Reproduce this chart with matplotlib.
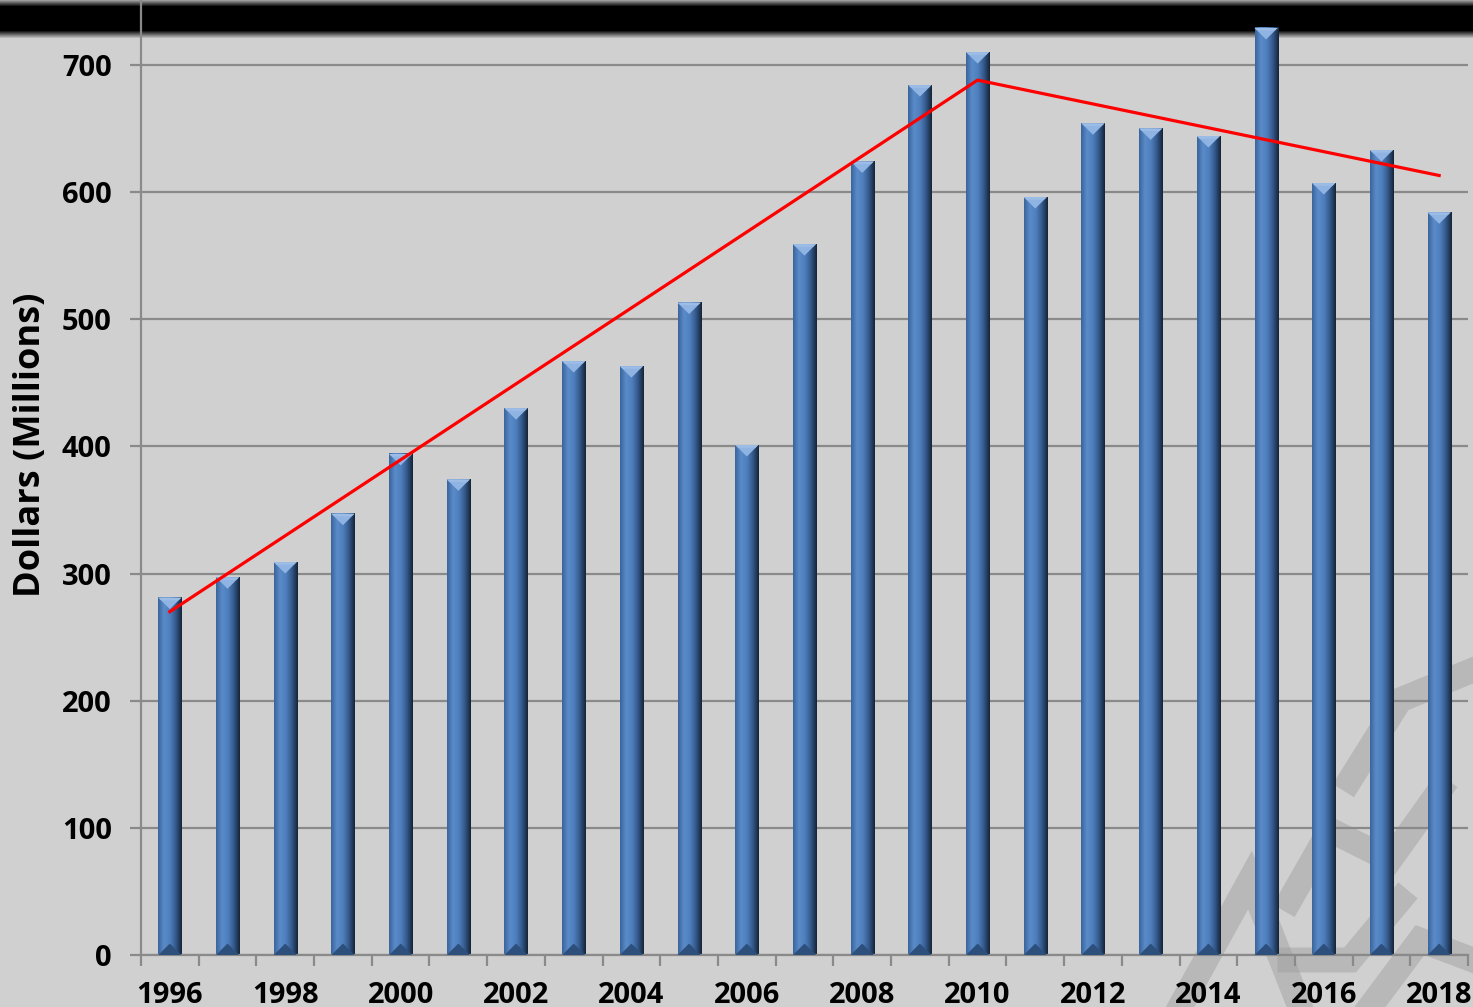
import numpy as np
import matplotlib.pyplot as plt
from matplotlib.colors import LinearSegmentedColormap

# data
anos = list(range(1996, 2019))
valores = [281, 297, 309, 347, 394, 374, 430, 467, 463, 513, 401, 559,
           624, 684, 710, 596, 654, 650, 644, 729, 607, 633, 584]

# tendency line (two segments)
tend_anos = [1996, 2010, 2018]
tend_valores = [270, 688, 613]

fundo = '#d0d0d0'
plt.rcParams['font.family'] = ['Open Sans', 'DejaVu Sans']

fig = plt.figure(figsize=(14.73, 10.07), dpi=100, facecolor=fundo)

# black band on top with soft edges (behind the chart)
faixa = np.concatenate([np.linspace(0.75, 0.0, 7), np.zeros(23), np.linspace(0, 1.0, 9)])
cmap_faixa = LinearSegmentedColormap.from_list('faixa', ['#000000', fundo])
bx = fig.add_axes([0, 1 - 39 / 1007, 1, 39 / 1007], zorder=0)
bx.imshow(faixa.reshape(-1, 1), cmap=cmap_faixa, aspect='auto', vmin=0, vmax=1)
bx.axis('off')

# faint watermark in the lower right corner
wm = fig.add_axes([0, 0, 1, 1], zorder=0)
wm.set_xlim(0, 1473)
wm.set_ylim(1007, 0)
wm.axis('off')
for xs, ys in [([1180, 1250, 1300], [1007, 880, 1007]),
               ([1290, 1330, 1390, 1440], [900, 830, 860, 790]),
               ([1350, 1400, 1473], [780, 700, 670]),
               ([1370, 1420, 1473], [1007, 940, 960]),
               ([1290, 1350, 1400], [960, 960, 900])]:
    wm.plot(xs, ys, color='#9c9c9c', lw=18, alpha=0.45, solid_joinstyle='miter')

ax = fig.add_axes([141 / 1473, 1 - 955 / 1007, 1327 / 1473, 955 / 1007], zorder=1)
ax.patch.set_alpha(0)

x = np.arange(len(anos))
largura = 0.40

# gradient for the bevelled bars (light left/center, dark right)
cmap_barra = LinearSegmentedColormap.from_list(
    'barra', ['#3b659c', '#5a8bca', '#4f7fbd', '#34598b', '#152538'])
grad = np.linspace(0, 1, 64).reshape(1, -1)

for xi, v in zip(x, valores):
    ax.imshow(grad, cmap=cmap_barra, aspect='auto', zorder=2,
              extent=(xi - largura / 2, xi + largura / 2, 0, v))
    # top chevron
    h = 9
    ax.fill([xi - largura / 2, xi + largura / 2, xi],
            [v, v, v - h], color='#8fb4e3', zorder=3, lw=0)
    ax.fill([xi - largura / 2, xi - largura / 2 + 0.05, xi + largura / 2 - 0.05, xi + largura / 2],
            [v, v - 2, v - 2, v], color='#9dbde6', zorder=3, lw=0)
    # bottom chevron
    ax.fill([xi - largura / 2, xi + largura / 2, xi],
            [0, 0, h], color='#2d4f7c', zorder=3, lw=0)

ax.plot([anos.index(a) for a in tend_anos], tend_valores,
        color='#ff0000', lw=2.3, zorder=4)

ax.set_xlim(-0.5, len(anos) - 0.5)
ax.set_ylim(0, 751)
ax.set_yticks(range(0, 701, 100))
ax.set_yticklabels([str(v) for v in range(0, 701, 100)],
                   fontsize=21, fontweight='bold')
ax.yaxis.grid(True, color='#8a8a8a', lw=1.6, zorder=1)
ax.set_axisbelow(True)

ax.set_xticks(x[::2])
ax.set_xticklabels([str(a) for a in anos[::2]], fontsize=21, fontweight='bold')
ax.set_xticks(np.arange(-0.5, len(anos), 1), minor=True)
ax.tick_params(axis='x', which='major', length=0, pad=19)
ax.tick_params(axis='x', which='minor', length=8, width=1.6, color='#8a8a8a')
ax.tick_params(axis='y', length=8, width=1.6, color='#8a8a8a', pad=13)

for s in ['top', 'right']:
    ax.spines[s].set_visible(False)
ax.spines['left'].set_color('#8a8a8a')
ax.spines['left'].set_linewidth(1.6)
ax.spines['bottom'].set_color('#8a8a8a')
ax.spines['bottom'].set_linewidth(1.6)

ax.set_ylabel('Dollars (Millions)', fontsize=26, fontweight='bold')
ax.yaxis.set_label_coords(-92 / 1327, 0.534)

fig.savefig('out.png', dpi=100, facecolor=fundo)
